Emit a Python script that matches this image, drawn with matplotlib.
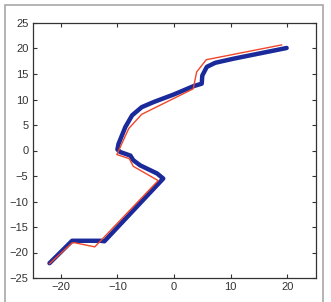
import matplotlib
matplotlib.use('Agg')
import matplotlib.pyplot as plt
from matplotlib.patches import Rectangle

# reference path (thin red)
ref_x = [-22.0, -18.0, -17.5, -14.0, -2.8, -7.2, -7.9, -10.1, -8.0, -5.7, 3.4, 4.0, 5.7, 19.0]
ref_y = [-22.2, -18.1, -18.1, -18.9, -5.9, -3.1, -1.6, -0.8, 4.3, 7.1, 12.1, 15.4, 17.8, 20.7]

# tracked path (thick blue)
trk_x = [-22.0, -18.0, -13.0, -12.3, -1.9, -3.0, -6.0, -7.2, -7.7, -9.5, -10.0,
         -9.8, -8.6, -7.4, -5.7, -3.6, 0.0, 3.4, 4.9, 5.0, 5.8, 7.3, 10.5, 19.9]
trk_y = [-22.1, -17.7, -17.7, -17.8, -5.5, -4.5, -2.9, -1.9, -1.0, -0.3, 0.2,
         1.3, 4.6, 6.9, 8.5, 9.5, 11.0, 12.6, 13.1, 14.7, 16.4, 17.2, 18.0, 20.1]

x_ticks = [-20, -10, 0, 10, 20]
y_ticks = [-25, -20, -15, -10, -5, 0, 5, 10, 15, 20, 25]

plt.rcParams['font.family'] = ['Liberation Sans', 'DejaVu Sans']

fig = plt.figure(figsize=(3.31, 3.02), dpi=100)
ax = fig.add_axes([32.5 / 331, 1 - 278 / 302, 283 / 331, 255 / 302])

# outer frame of the figure
fig.patches.append(Rectangle((4.5 / 331, -0.05), 318 / 331, 1.05 - 4.5 / 302,
                             transform=fig.transFigure, fill=False,
                             edgecolor='#a8a8a8', linewidth=1.2))

ax.plot(trk_x, trk_y, color='#1a2a9a', linewidth=3.2, solid_joinstyle='round',
        solid_capstyle='round', zorder=2)
ax.plot(ref_x, ref_y, color='#f0462a', linewidth=1.0, zorder=3)

ax.set_xlim(-25, 25)
ax.set_ylim(-25, 25)
ax.set_xticks(x_ticks)
ax.set_yticks(y_ticks)
ax.tick_params(direction='in', length=3, width=0.8, top=True, right=True,
               labelsize=8, colors='#333333', pad=3)
for s in ax.spines.values():
    s.set_color('#333333')
    s.set_linewidth(0.9)

plt.savefig('out.png', dpi=100)
